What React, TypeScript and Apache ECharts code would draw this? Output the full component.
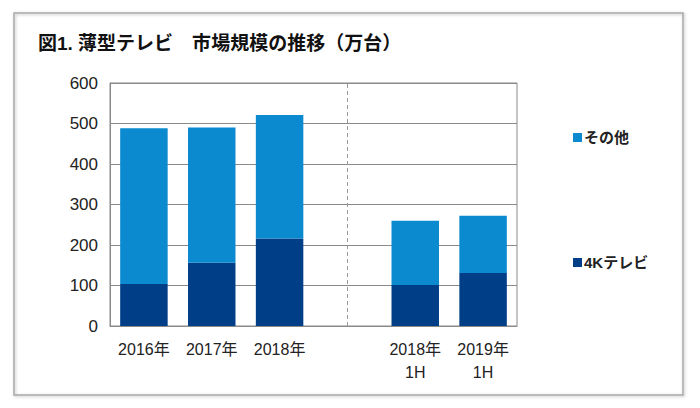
import React, { useEffect, useRef } from "react";
import * as echarts from "echarts";

const categories = ["2016年", "2017年", "2018年", "", "2018年\n1H", "2019年\n1H"];
const fourK = [104, 156, 216, null, 101, 131];
const others = [384, 334, 305, null, 159, 141];
const yTicks = [0, 100, 200, 300, 400, 500, 600];

const FONT = "'Liberation Sans', 'Noto Sans CJK JP', sans-serif";

export default function App() {
  const ref = useRef<HTMLDivElement>(null);
  useEffect(() => {
    if (!ref.current) return;
    const chart = echarts.init(ref.current, undefined, { renderer: "svg" });
    chart.setOption({
      animation: false,
      backgroundColor: "#ffffff",
      textStyle: { fontFamily: FONT },
      graphic: [
        {
          type: "rect",
          shape: { x: 14, y: 13, width: 669, height: 382 },
          style: { fill: "none", stroke: "#a8a8a8", lineWidth: 1.5, shadowBlur: 3, shadowColor: "rgba(0,0,0,0.25)", shadowOffsetX: 1, shadowOffsetY: 1 },
          silent: true,
        },
        {
          type: "text",
          left: 38,
          top: 34,
          style: { text: "図1. 薄型テレビ　市場規模の推移（万台）", fontSize: 19, fontWeight: "bold", fill: "#111", fontFamily: FONT },
        },
      ],
      legend: {
        orient: "vertical",
        left: 568,
        top: 125,
        itemGap: 110,
        itemWidth: 9,
        itemHeight: 9,
        icon: "rect",
        data: ["その他", "4Kテレビ"],
        textStyle: { fontSize: 15, fontWeight: "bold", color: "#222", fontFamily: FONT, padding: [0, 0, 0, -3] },
      },
      grid: {
        left: 110,
        right: 183,
        top: 83,
        bottom: 82,
        show: true,
        borderColor: "#8a8a8a",
        borderWidth: 1,
      },
      xAxis: {
        type: "category",
        data: categories,
        axisLine: { lineStyle: { color: "#8a8a8a" } },
        axisTick: { show: false },
        axisLabel: { fontSize: 16, color: "#222", margin: 12, lineHeight: 23, interval: 0, fontFamily: FONT },
      },
      yAxis: {
        type: "value",
        min: 0,
        max: 600,
        interval: 100,
        axisLine: { show: true, lineStyle: { color: "#8a8a8a" } },
        axisTick: { show: false },
        splitLine: { lineStyle: { color: "#8a8a8a", width: 1 } },
        axisLabel: {
          fontSize: 17,
          color: "#222",
          margin: 12,
          fontFamily: FONT,
          formatter: (v: number) => (yTicks.includes(v) ? String(v) : ""),
        },
      },
      series: [
        {
          name: "4Kテレビ",
          type: "bar",
          stack: "total",
          data: fourK,
          barWidth: "70%",
          itemStyle: { color: "#003f88" },
          markLine: {
            silent: true,
            symbol: "none",
            label: { show: false },
            lineStyle: { color: "#9a9a9a", type: [4, 3], width: 1 },
            data: [{ xAxis: 3 }],
          },
        },
        {
          name: "その他",
          type: "bar",
          stack: "total",
          data: others,
          barWidth: "70%",
          itemStyle: { color: "#0b8acf" },
        },
      ],
    });
    return () => chart.dispose();
  }, []);
  return <div ref={ref} style={{ position: "fixed", left: 0, top: 0, width: 700, height: 408 }} />;
}
